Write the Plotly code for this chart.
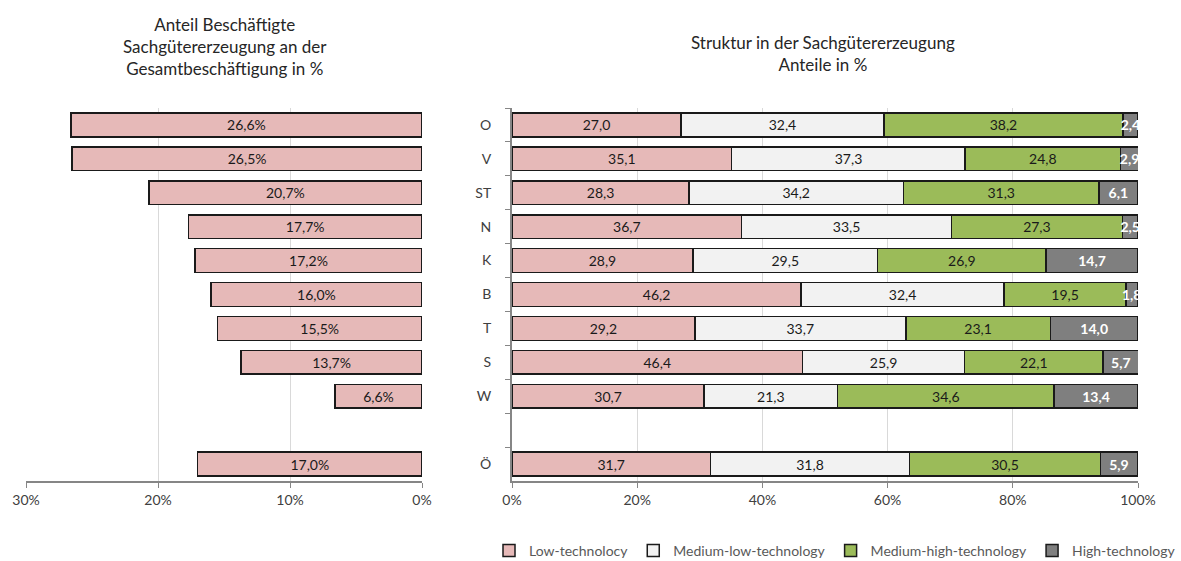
import plotly.graph_objects as go

regions = ["O", "V", "ST", "N", "K", "B", "T", "S", "W", " ", "Ö"]
share_total = [26.6, 26.5, 20.7, 17.7, 17.2, 16.0, 15.5, 13.7, 6.6, None, 17.0]
low_tech = [27.0, 35.1, 28.3, 36.7, 28.9, 46.2, 29.2, 46.4, 30.7, None, 31.7]
med_low_tech = [32.4, 37.3, 34.2, 33.5, 29.5, 32.4, 33.7, 25.9, 21.3, None, 31.8]
med_high_tech = [38.2, 24.8, 31.3, 27.3, 26.9, 19.5, 23.1, 22.1, 34.6, None, 30.5]
high_tech = [2.4, 2.9, 6.1, 2.5, 14.7, 1.8, 14.0, 5.7, 13.4, None, 5.9]
series_names = ["Low-technolocy", "Medium-low-technology", "Medium-high-technology", "High-technology"]
series_colors = ["#E6B9B8", "#F2F2F2", "#9BBB59", "#7F7F7F"]
left_ticks = [30, 20, 10, 0]
left_ticktext = ["30%", "20%", "10%", "0%"]
right_ticks = [0, 20, 40, 60, 80, 100]
right_ticktext = ["0%", "20%", "40%", "60%", "80%", "100%"]

FONT = "Lato"
W, H = 1181, 561

def px_x(p):
    return p / W

def px_y(p):
    return 1 - p / H

fig = go.Figure()

fig.add_trace(go.Bar(
    x=share_total, y=regions, orientation="h", xaxis="x", yaxis="y",
    marker=dict(color="#E6B9B8", line=dict(color="#1a1a1a", width=1.5)),
    texttemplate="%{x:.1f}%", textposition="inside", insidetextanchor="middle",
    textangle=0, textfont=dict(color="#1a1a1a", size=14, family=FONT),
    showlegend=False, hoverinfo="skip",
))

for name, vals, col in zip(series_names, [low_tech, med_low_tech, med_high_tech, high_tech], series_colors):
    is_high = name == "High-technology"
    fig.add_trace(go.Bar(
        x=vals, y=regions, orientation="h", xaxis="x2", yaxis="y2", name=name,
        marker=dict(color=col, line=dict(color="#1a1a1a", width=1.5)),
        texttemplate="%{x:.1f}", textposition="inside", insidetextanchor="middle",
        textangle=0,
        textfont=dict(color="white" if is_high else "#1a1a1a", size=14, family=FONT,
                      weight="bold" if is_high else "normal"),
        hoverinfo="skip",
    ))

ydom = [px_y(481), px_y(108)]
axis_common = dict(automargin=False, zeroline=False)

fig.update_layout(
    width=W, height=H,
    margin=dict(l=0, r=0, t=0, b=0, autoexpand=False),
    paper_bgcolor="white", plot_bgcolor="white",
    barmode="stack", bargap=0.3,
    separators=",.",
    uniformtext=dict(minsize=14, mode="show"),
    font=dict(family=FONT, color="#404040", size=14),
    xaxis=dict(domain=[px_x(26), px_x(422)], range=[30, 0], tickmode="array",
               tickvals=left_ticks, ticktext=left_ticktext,
               showgrid=True, gridcolor="#D9D9D9", gridwidth=1,
               showline=True, linecolor="#868686", linewidth=2, ticks="outside",
               ticklen=5, tickcolor="#868686", anchor="y",
               tickfont=dict(size=14, color="#404040"), **axis_common),
    yaxis=dict(domain=ydom, categoryorder="array", categoryarray=regions,
               autorange="reversed", showticklabels=False, showgrid=False,
               showline=False, anchor="x", **axis_common),
    xaxis2=dict(domain=[px_x(512), px_x(1138)], range=[0, 100], tickmode="array",
                tickvals=right_ticks, ticktext=right_ticktext,
                showgrid=True, gridcolor="#D9D9D9", gridwidth=1,
                showline=True, linecolor="#868686", linewidth=2, ticks="outside",
                ticklen=5, tickcolor="#868686", anchor="y2",
                tickfont=dict(size=14, color="#404040"), **axis_common),
    yaxis2=dict(domain=ydom, categoryorder="array", categoryarray=regions,
                autorange="reversed", showgrid=False,
                showline=True, linecolor="#868686", linewidth=2,
                ticks="outside", ticklen=5, tickcolor="#868686", tickson="boundaries",
                ticklabelstandoff=16, anchor="x2",
                tickfont=dict(size=14, color="#404040"), **axis_common),
    legend=dict(orientation="h", x=1.0, xanchor="right", y=px_y(551), yanchor="middle",
                font=dict(size=14, color="#595959"), traceorder="normal",
                itemwidth=30, bgcolor="rgba(0,0,0,0)"),
    annotations=[
        dict(text="Anteil Beschäftigte<br>Sachgütererzeugung an der<br>Gesamtbeschäftigung in %",
             x=px_x(225), y=px_y(46), xref="paper", yref="paper", showarrow=False,
             xanchor="center", yanchor="middle", font=dict(size=17, color="#262626")),
        dict(text="Struktur in der Sachgütererzeugung<br>Anteile in %",
             x=px_x(823), y=px_y(54), xref="paper", yref="paper", showarrow=False,
             xanchor="center", yanchor="middle", font=dict(size=17, color="#262626")),
    ],
)

fig.write_html(
    "out.html",
    config={"displayModeBar": False},
    post_script="document.body.style.margin='0';document.body.style.overflow='hidden';",
)
